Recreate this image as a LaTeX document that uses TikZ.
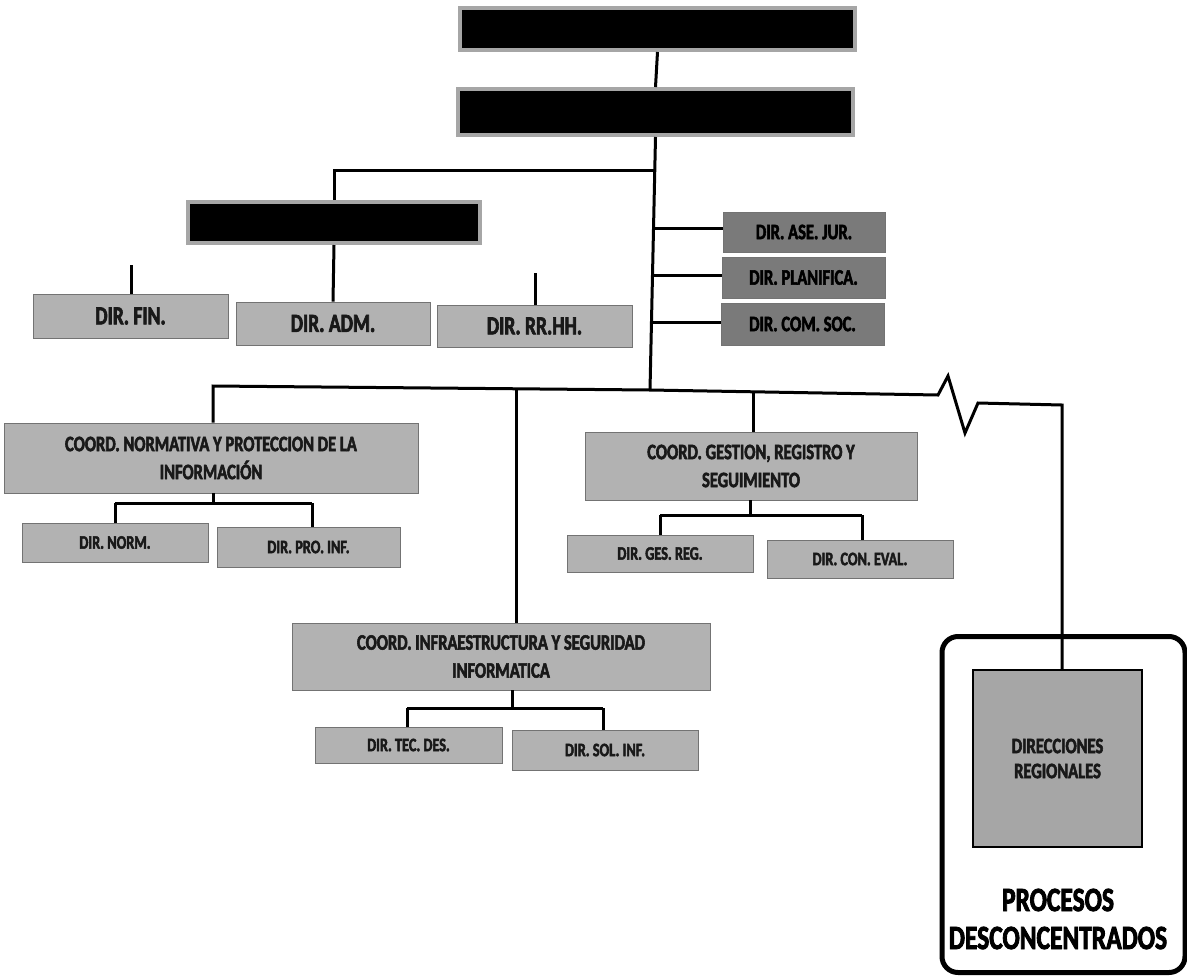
\documentclass[tikz,border=0pt]{standalone}
\usepackage{fontspec}
\setmainfont{Carlito}[FakeStretch=0.75,BoldFont={* Bold},BoldFeatures={FakeBold=2.5}]
\begin{document}
\begin{tikzpicture}[x=1pt,y=-1pt,
  blackbox/.style={draw=black!35,line width=4pt,fill=black,inner sep=0pt},
  greybox/.style={draw=black!55,line width=0.8pt,fill=black!30,inner sep=2pt,align=center,text=black!90,font=\fontsize{19}{24}\selectfont\bfseries},
  dirbox/.style={greybox,font=\fontsize{26}{28}\selectfont\bfseries},
  darkbox/.style={greybox,fill=black!52,text=black,font=\fontsize{22}{26}\selectfont\bfseries},
  coordbox/.style={greybox,font=\fontsize{22}{28}\selectfont\bfseries},
  link/.style={draw=black,line width=3pt},
  frame/.style={draw=black,line width=5pt,rounded corners=16pt,fill=white}
]
\useasboundingbox (0,0) rectangle (1187,978);
\fill[white] (0,0) rectangle (1187,978);

% top black boxes
\node[blackbox,minimum width=395,minimum height=42] (top1) at (657.5,29) {};
\node[blackbox,minimum width=395,minimum height=46] (top2) at (655.5,112) {};
\node[blackbox,minimum width=292,minimum height=41] (boxc) at (334,222.5) {};

% second level
\node[dirbox,minimum width=195,minimum height=44] (fin) at (130.5,316) {DIR. FIN.};
\node[dirbox,minimum width=194,minimum height=43] (adm) at (333,323.5) {DIR. ADM.};
\node[dirbox,minimum width=195,minimum height=42] (rrhh) at (534.5,326) {DIR. RR.HH.};

\node[darkbox,minimum width=162,minimum height=40] (ase) at (804,232) {DIR. ASE. JUR.};
\node[darkbox,minimum width=163,minimum height=41] (plan) at (803.5,277.5) {DIR. PLANIFICA.};
\node[darkbox,minimum width=163,minimum height=42] (com) at (802.5,324) {DIR. COM. SOC.};

% coordinations
\node[coordbox,minimum width=414,minimum height=70] (norm) at (211,458) {COORD. NORMATIVA Y PROTECCION DE LA\\INFORMACIÓN};
\node[greybox,minimum width=186,minimum height=39] (dnorm) at (115,542.5) {DIR. NORM.};
\node[greybox,minimum width=183,minimum height=40] (dpro) at (308.5,547) {DIR. PRO. INF.};

\node[coordbox,minimum width=332,minimum height=68] (gest) at (751,466) {COORD. GESTION, REGISTRO Y\\SEGUIMIENTO};
\node[greybox,minimum width=186,minimum height=37] (dges) at (660,553.5) {DIR. GES. REG.};
\node[greybox,minimum width=186,minimum height=38] (dcon) at (860,559) {DIR. CON. EVAL.};

\node[coordbox,minimum width=418,minimum height=67] (infra) at (501,656.5) {COORD. INFRAESTRUCTURA Y SEGURIDAD\\INFORMATICA};
\node[greybox,minimum width=187,minimum height=36] (dtec) at (408.5,745) {DIR. TEC. DES.};
\node[greybox,minimum width=186,minimum height=40] (dsol) at (605,750) {DIR. SOL. INF.};

% regional frame
\node[frame,minimum width=243,minimum height=336] (frm) at (1063.5,804.5) {};
\node[greybox,draw=black,line width=1.5pt,fill=black!35,minimum width=169,minimum height=177,font=\fontsize{22}{25}\selectfont\bfseries] (dirreg) at (1057.5,758.5) {DIRECCIONES\\REGIONALES};
\node[font=\fontsize{34}{38}\selectfont\bfseries,align=center] (proc) at (1058,919) {PROCESOS\\DESCONCENTRADOS};

% coordinates of the bus
\coordinate (trk) at (654,170);
\coordinate (busl) at (213,386);
\coordinate (busm) at (650,390);
\coordinate (busr) at (938,395);
\coordinate (z1) at (948,376);
\coordinate (z2) at (965,433);
\coordinate (z3) at (978,403);
\coordinate (z4) at (1062,405);
\coordinate (stubfin) at (131,265);
\coordinate (stubrr) at (535,273);

% connectors
\draw[link] (top1.south) -- (top2.north);
\draw[link] (top2.south) -- (busm);
\draw[link] (trk) -- (334,170) -- (boxc.north);
\draw[link] (boxc.south) -- (adm.north);
\draw[link] (stubfin) -- (stubfin|-fin.north);
\draw[link] (stubrr) -- (stubrr|-rrhh.north);
\draw[link] (652,228) -- (652,228-|ase.west);
\draw[link] (651,275) -- (651,275-|plan.west);
\draw[link] (651,322) -- (651,322-|com.west);

\draw[link,line join=miter] (norm.north-|busl) -- (busl) -- (busm) -- (busr) -- (z1) -- (z2) -- (z3) -- (z4) -- (z4|-dirreg.north);

\draw[link] (norm.south-|busl) -- (213,503);
\draw[link] (115,503) -- (312,503);
\draw[link] (115,503) -- (dnorm.north-|115,0);
\draw[link] (312,503) -- (dpro.north-|312,0);

\draw[link] (753,392) -- (gest.north-|753,0);
\draw[link] (gest.south-|750,0) -- (750,515);
\draw[link] (660,515) -- (862,515);
\draw[link] (660,515) -- (dges.north);
\draw[link] (862,515) -- (dcon.north-|862,0);

\draw[link] (516,388) -- (infra.north-|516,0);
\draw[link] (infra.south-|512,0) -- (512,708);
\draw[link] (407,708) -- (603,708);
\draw[link] (407,708) -- (dtec.north-|407,0);
\draw[link] (603,708) -- (dsol.north-|603,0);
\end{tikzpicture}
\end{document}
